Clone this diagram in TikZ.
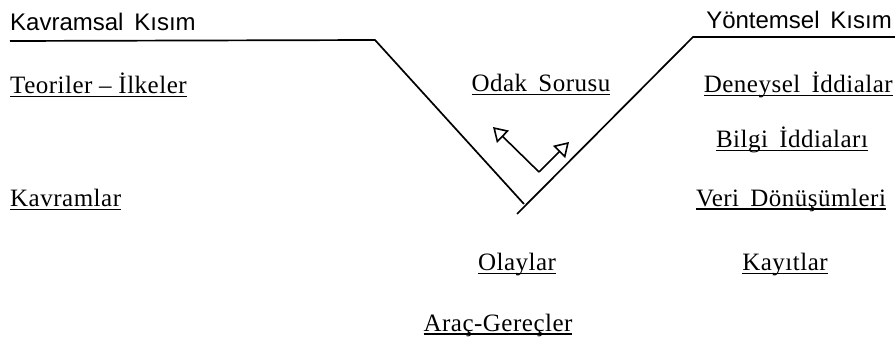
\documentclass[tikz,border=0pt]{standalone}
\usepackage{fontspec}
\setmainfont{Liberation Serif}[LetterSpace=2]
\setsansfont{Liberation Sans}
\usetikzlibrary{arrows.meta}

% thick underline, as in the scan
\newcommand{\ul}[1]{\setbox0\hbox{#1}\rlap{\rule[-3.5pt]{\wd0}{1.4pt}}\box0}
\newcommand{\gap}{\hspace{0.45em}}

\tikzset{
  lbl/.style={font=\fontsize{25}{28}\selectfont, inner sep=0pt},
  head/.style={font=\sffamily\fontsize{24}{28}\selectfont, inner sep=0pt},
  vline/.style={line width=1.7pt},
  hollow/.style={line width=1.6pt, -{Triangle[open,length=14pt,width=17pt]}}
}

\begin{document}
\begin{tikzpicture}[x=1pt,y=1pt]
  \useasboundingbox (0,0) rectangle (895,-342);

  % the two sides of the V
  \coordinate (lstart) at (10,-41);
  \coordinate (lbend) at (375,-40);
  \coordinate (lend) at (524,-204);
  \coordinate (rtip) at (517,-214);
  \coordinate (rbend) at (693,-37);
  \coordinate (rend) at (895,-37);
  \draw[vline] (lstart) -- (lbend) -- (lend);
  \draw[vline] (rtip) -- (rbend) -- (rend);

  % the two arrows inside
  \coordinate (knee) at (539,-172);
  \coordinate (upl) at (493,-127);
  \coordinate (upr) at (569,-142);
  \draw[hollow] (knee) -- (upl);
  \draw[hollow] (knee) -- (upr);

  \node[head, anchor=west] (kavsal) at (10,-22) {Kavramsal\gap Kısım};
  \node[head, anchor=east] (yonsel) at (892,-20) {Yöntemsel\gap Kısım};

  \node[lbl, anchor=west] (teori) at (10,-85) {\ul{Teoriler -- İlkeler}};
  \node[lbl] (odak) at (541,-85) {\ul{Odak\gap Sorusu}};
  \node[lbl, anchor=east] (deney) at (893,-85) {\ul{Deneysel\gap İddialar}};
  \node[lbl] (bilgi) at (792,-140) {\ul{Bilgi\gap İddiaları}};
  \node[lbl, anchor=west] (kavram) at (10,-200) {\ul{Kavramlar}};
  \node[lbl] (veri) at (791,-200) {\ul{Veri\gap Dönüşümleri}};
  \node[lbl] (olay) at (517,-265) {\ul{Olaylar}};
  \node[lbl] (kayit) at (785,-265) {\ul{Kayıtlar}};
  \node[lbl] (arac) at (498,-325) {\ul{Araç-Gereçler}};

\end{tikzpicture}
\end{document}
